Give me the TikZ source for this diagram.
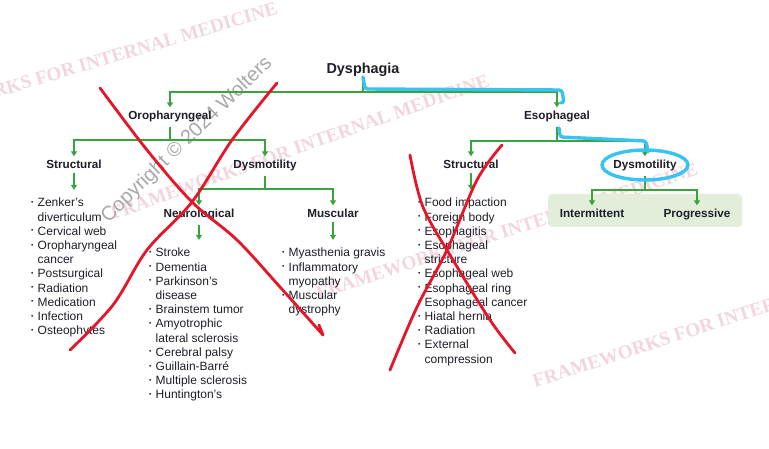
\documentclass[tikz,border=0pt]{standalone}
\usepackage{fontspec}
\setmainfont{Liberation Sans}
\newfontfamily\wmfont{Liberation Serif}
\usetikzlibrary{arrows.meta}
\definecolor{tgreen}{RGB}{58,162,62}
\definecolor{boxgreen}{RGB}{226,238,218}
\definecolor{xred}{RGB}{228,22,40}
\definecolor{hblue}{RGB}{56,196,242}
\definecolor{wmpink}{RGB}{242,214,222}
\definecolor{cpgray}{RGB}{168,168,172}
\definecolor{ink}{RGB}{30,30,40}
\newcommand\bul{\raisebox{2.4pt}{\scalebox{0.55}{\textbullet}}}
\newcommand\itm[1]{\makebox[6.5pt][l]{\bul}#1}
\newcommand\cnt[1]{\hspace*{6.5pt}#1}
\begin{document}
\begin{tikzpicture}[x=1pt,y=-1pt,
  gline/.style={draw=tgreen, line width=1.3pt},
  garrow/.style={gline, -{Triangle[width=6pt,length=5pt]}},
  head/.style={font=\bfseries\fontsize{11.7}{14}\selectfont, inner sep=4pt, anchor=base, text=ink},
  lst/.style={font=\fontsize{12}{14.2}\selectfont, inner sep=0pt, anchor=base west, text=ink},
  gbox/.style={fill=boxgreen, rounded corners=4pt, minimum width=194pt, minimum height=33pt, inner sep=0pt},
  wm/.style={text=wmpink, font=\wmfont\bfseries\fontsize{20}{20}\selectfont, inner sep=0pt},
  cp/.style={text=cpgray, font=\fontsize{20}{20}\selectfont, inner sep=0pt},
  xstroke/.style={draw=xred, line width=2.8pt, line cap=round, line join=round},
  bstroke/.style={draw=hblue, line width=3.4pt, line cap=round, line join=round}]
\useasboundingbox (0,0) rectangle (769,449);
\clip (0,0) rectangle (769,449);
\fill[white] (0,0) rectangle (769,449);

% watermarks
\node[wm, rotate=16.5, anchor=east] (wm1) at (277,8) {\resizebox{400pt}{!}{FRAMEWORKS FOR INTERNAL MEDICINE}};
\node[wm, rotate=19.6] (wm2) at (300,147) {\resizebox{400pt}{!}{FRAMEWORKS FOR INTERNAL MEDICINE}};
\node[wm, rotate=18.2] (wm3) at (507,231) {\resizebox{400pt}{!}{FRAMEWORKS FOR INTERNAL MEDICINE}};
\node[wm, rotate=18, anchor=west] (wm4) at (533,382) {\resizebox{400pt}{!}{FRAMEWORKS FOR INTERNAL MEDICINE}};
\node[cp, rotate=44] (cpy) at (187,140) {Copyright © 2024 Wolters};

% green background box
\node[gbox] (gbox) at (645,210.5) {};

% headings
\node[head, font=\bfseries\fontsize{14.4}{16}\selectfont] (dys) at (363,74) {Dysphagia};
\node[head] (oro) at (170,120) {Oropharyngeal};
\node[head] (eso) at (557,120) {Esophageal};
\node[head] (ostr) at (74,169) {Structural};
\node[head] (odys) at (265,169) {Dysmotility};
\node[head] (neu) at (199,218) {Neurological};
\node[head] (mus) at (333,218) {Muscular};
\node[head] (estr) at (471,169) {Structural};
\node[head] (edys) at (645,169) {Dysmotility};
\node[head] (int) at (592,218) {Intermittent};
\node[head] (prog) at (697,218) {Progressive};

% lists
\node[lst] (ol) at (31,207) {\begin{tabular}[t]{@{}l@{}}
\itm{Zenker’s}\\ \cnt{diverticulum}\\ \itm{Cervical web}\\ \itm{Oropharyngeal}\\ \cnt{cancer}\\
\itm{Postsurgical}\\ \itm{Radiation}\\ \itm{Medication}\\ \itm{Infection}\\ \itm{Osteophytes}
\end{tabular}};
\node[lst] (nl) at (149,257) {\begin{tabular}[t]{@{}l@{}}
\itm{Stroke}\\ \itm{Dementia}\\ \itm{Parkinson’s}\\ \cnt{disease}\\ \itm{Brainstem tumor}\\
\itm{Amyotrophic}\\ \cnt{lateral sclerosis}\\ \itm{Cerebral palsy}\\ \itm{Guillain-Barré}\\
\itm{Multiple sclerosis}\\ \itm{Huntington’s}
\end{tabular}};
\node[lst] (ml) at (282,257) {\begin{tabular}[t]{@{}l@{}}
\itm{Myasthenia gravis}\\ \itm{Inflammatory}\\ \cnt{myopathy}\\ \itm{Muscular}\\ \cnt{dystrophy}
\end{tabular}};
\node[lst] (el) at (418,207) {\begin{tabular}[t]{@{}l@{}}
\itm{Food impaction}\\ \itm{Foreign body}\\ \itm{Esophagitis}\\ \itm{Esophageal}\\ \cnt{stricture}\\
\itm{Esophageal web}\\ \itm{Esophageal ring}\\ \itm{Esophageal cancer}\\ \itm{Hiatal hernia}\\
\itm{Radiation}\\ \itm{External}\\ \cnt{compression}
\end{tabular}};

% connectors
\draw[garrow] (dys.south) -- (dys.south |- 0,92) -| (oro.north);
\draw[garrow] (dys.south) -- (dys.south |- 0,92) -| (eso.north);
\draw[garrow] (oro.south) -- (oro.south |- 0,140) -| (ostr.north);
\draw[garrow] (oro.south) -- (oro.south |- 0,140) -| (odys.north);
\draw[garrow, shorten >=7pt] (ostr.south) -- (ostr.south |- ol.north);
\draw[garrow] (odys.south) -- (odys.south |- 0,189) -| (neu.north);
\draw[garrow] (odys.south) -- (odys.south |- 0,189) -| (mus.north);
\draw[garrow, shorten >=7pt] (neu.south) -- (neu.south |- nl.north);
\draw[garrow, shorten >=7pt] (mus.south) -- (mus.south |- ml.north);
\draw[garrow] (eso.south) -- (eso.south |- 0,141) -| (estr.north);
\draw[garrow] (eso.south) -- (eso.south |- 0,141) -| (edys.north);
\draw[garrow, shorten >=7pt] (estr.south) -- (estr.south |- el.north);
\draw[garrow] (edys.south) -- (edys.south |- 0,190) -| (int.north);
\draw[garrow] (edys.south) -- (edys.south |- 0,190) -| (prog.north);

% red crosses
\draw[xstroke] plot[smooth, tension=0.55] coordinates {(100,88) (147,150) (192,202) (237,240) (280,287) (323,335)};
\draw[xstroke] (323,335) -- (319,325);
\draw[xstroke] plot[smooth, tension=0.55] coordinates {(277,83) (232,140) (192,202) (147,250) (113,305) (70,350)};
\draw[xstroke] plot[smooth, tension=0.55] coordinates {(410,155) (423,207) (453,260) (490,320) (515,353)};
\draw[xstroke] plot[smooth, tension=0.55] coordinates {(502,145) (477,180) (447,250) (417,307) (390,370)};

% blue highlights
\draw[bstroke, rounded corners=3pt] (363,77) -- (365,89) -- (562,90) -- (564,103) -- (561,103);
\draw[bstroke, rounded corners=3pt] (559,128) -- (560,137) -- (646,141) -- (648,152);
\draw[bstroke] (645,165) ellipse [x radius=43pt, y radius=15pt];
\end{tikzpicture}
\end{document}
